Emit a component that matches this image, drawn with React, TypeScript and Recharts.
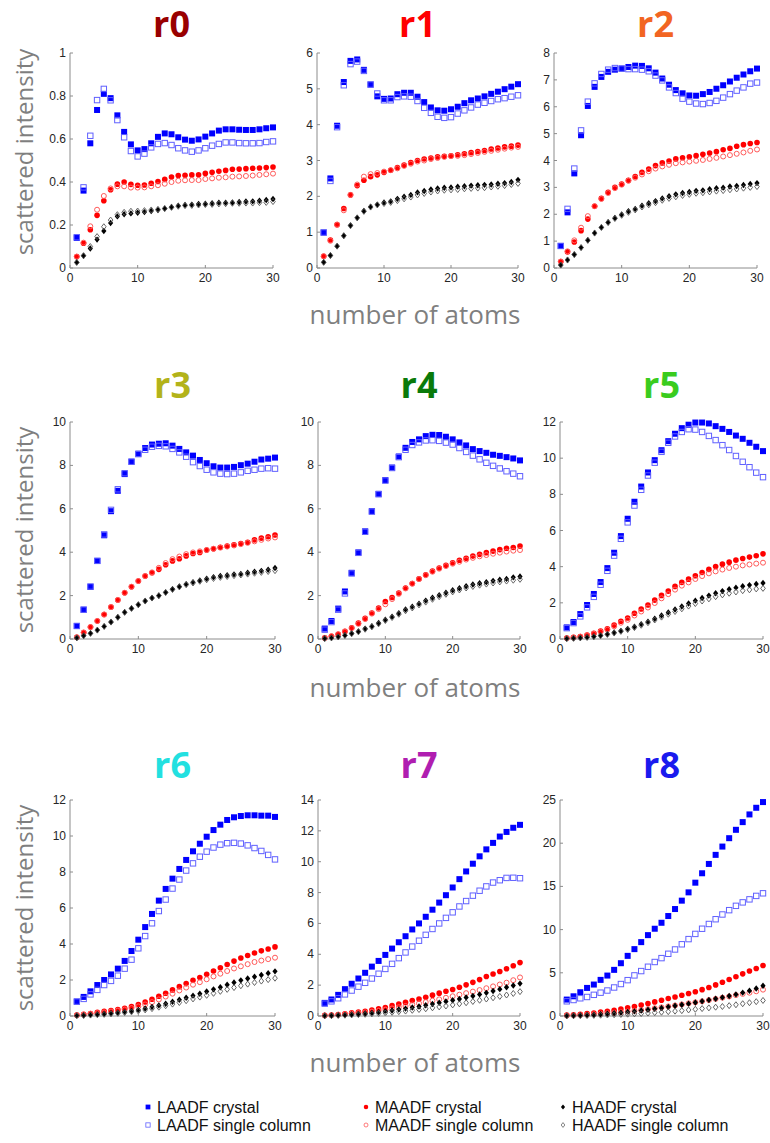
import React from 'react';
import { ScatterChart, Scatter, XAxis, YAxis } from 'recharts';

const atoms = [1, 2, 3, 4, 5, 6, 7, 8, 9, 10, 11, 12, 13, 14, 15, 16, 17, 18, 19, 20, 21, 22, 23, 24, 25, 26, 27, 28, 29, 30];
const panelNames = ['r0', 'r1', 'r2', 'r3', 'r4', 'r5', 'r6', 'r7', 'r8'];
const yMaxes = [1, 6, 8, 10, 10, 12, 12, 14, 25];
const yTickSets = [
  [0, 0.2, 0.4, 0.6, 0.8, 1],
  [0, 1, 2, 3, 4, 5, 6],
  [0, 1, 2, 3, 4, 5, 6, 7, 8],
  [0, 2, 4, 6, 8, 10],
  [0, 2, 4, 6, 8, 10],
  [0, 2, 4, 6, 8, 10, 12],
  [0, 2, 4, 6, 8, 10, 12],
  [0, 2, 4, 6, 8, 10, 12, 14],
  [0, 5, 10, 15, 20, 25],
];
const xTicks = [0, 10, 20, 30];
const seriesNames = ['LAADF crystal', 'LAADF single column', 'MAADF crystal', 'MAADF single column', 'HAADF crystal', 'HAADF single column'];
const xLabel = 'number of atoms';
const yLabel = 'scattered intensity';

// LAADF crystal, per panel r0..r8
const laadfCrystal = [
  [0.14, 0.36, 0.58, 0.735, 0.81, 0.79, 0.71, 0.633, 0.575, 0.547, 0.553, 0.58, 0.61, 0.626, 0.622, 0.608, 0.597, 0.592, 0.598, 0.611, 0.626, 0.639, 0.645, 0.645, 0.643, 0.642, 0.642, 0.645, 0.65, 0.654],
  [0.99, 2.5, 3.97, 5.19, 5.78, 5.82, 5.53, 5.12, 4.79, 4.72, 4.73, 4.85, 4.89, 4.89, 4.78, 4.63, 4.48, 4.4, 4.39, 4.43, 4.5, 4.6, 4.68, 4.73, 4.79, 4.86, 4.92, 4.99, 5.06, 5.13],
  [0.82, 2.07, 3.52, 4.94, 6.03, 6.74, 7.11, 7.3, 7.38, 7.42, 7.48, 7.53, 7.52, 7.43, 7.27, 7.05, 6.82, 6.62, 6.5, 6.42, 6.41, 6.47, 6.55, 6.67, 6.8, 6.94, 7.08, 7.2, 7.32, 7.42],
  [0.6, 1.35, 2.4, 3.6, 4.78, 5.89, 6.83, 7.6, 8.17, 8.54, 8.8, 8.96, 9.0, 9.02, 8.91, 8.76, 8.6, 8.45, 8.25, 8.1, 7.96, 7.9, 7.9, 7.93, 8.01, 8.08, 8.17, 8.27, 8.31, 8.36],
  [0.48, 0.83, 1.4, 2.19, 3.05, 3.99, 4.96, 5.89, 6.69, 7.32, 7.9, 8.41, 8.81, 9.08, 9.2, 9.35, 9.41, 9.4, 9.32, 9.2, 9.06, 8.92, 8.75, 8.66, 8.58, 8.49, 8.44, 8.38, 8.32, 8.23],
  [0.64, 0.94, 1.38, 1.88, 2.49, 3.15, 3.92, 4.77, 5.69, 6.65, 7.59, 8.43, 9.21, 9.89, 10.44, 10.94, 11.35, 11.66, 11.85, 11.97, 11.97, 11.92, 11.77, 11.62, 11.45, 11.25, 11.07, 10.85, 10.63, 10.39],
  [0.8, 1.06, 1.37, 1.72, 2.0, 2.31, 2.63, 3.06, 3.61, 4.24, 4.94, 5.67, 6.41, 7.06, 7.63, 8.17, 8.67, 9.15, 9.57, 9.96, 10.33, 10.63, 10.89, 11.04, 11.11, 11.15, 11.15, 11.13, 11.13, 11.06],
  [0.85, 1.07, 1.37, 1.74, 2.09, 2.43, 2.8, 3.2, 3.57, 3.96, 4.37, 4.78, 5.17, 5.61, 6.0, 6.43, 6.89, 7.35, 7.83, 8.33, 8.87, 9.37, 9.87, 10.35, 10.8, 11.22, 11.63, 11.93, 12.2, 12.39],
  [1.9, 2.28, 2.75, 3.25, 3.64, 4.18, 4.68, 5.34, 6.11, 6.96, 7.74, 8.55, 9.36, 10.1, 10.79, 11.57, 12.38, 13.35, 14.31, 15.43, 16.52, 17.6, 18.65, 19.61, 20.58, 21.55, 22.44, 23.33, 24.1, 24.76],
];

// LAADF single column
const laadfSingle = [
  [0.143, 0.375, 0.615, 0.781, 0.833, 0.78, 0.688, 0.608, 0.544, 0.519, 0.532, 0.561, 0.577, 0.581, 0.572, 0.557, 0.547, 0.541, 0.547, 0.557, 0.569, 0.577, 0.584, 0.584, 0.581, 0.58, 0.58, 0.581, 0.586, 0.589],
  [0.99, 2.43, 3.93, 5.1, 5.69, 5.76, 5.5, 5.12, 4.87, 4.68, 4.68, 4.77, 4.79, 4.78, 4.66, 4.47, 4.33, 4.22, 4.19, 4.21, 4.31, 4.4, 4.48, 4.56, 4.61, 4.66, 4.71, 4.74, 4.78, 4.82],
  [0.82, 2.2, 3.7, 5.12, 6.19, 6.87, 7.22, 7.38, 7.44, 7.42, 7.4, 7.4, 7.38, 7.32, 7.16, 6.98, 6.72, 6.51, 6.3, 6.19, 6.12, 6.1, 6.14, 6.22, 6.34, 6.47, 6.6, 6.72, 6.86, 6.9],
  [0.6, 1.35, 2.42, 3.6, 4.82, 5.95, 6.9, 7.64, 8.17, 8.52, 8.72, 8.86, 8.9, 8.88, 8.76, 8.6, 8.4, 8.15, 7.97, 7.8, 7.68, 7.62, 7.6, 7.62, 7.68, 7.75, 7.8, 7.85, 7.87, 7.85],
  [0.43, 0.78, 1.35, 2.1, 3.02, 3.97, 4.94, 5.87, 6.67, 7.3, 7.88, 8.38, 8.72, 8.94, 9.06, 9.15, 9.16, 9.13, 9.05, 8.96, 8.8, 8.62, 8.45, 8.28, 8.12, 7.98, 7.86, 7.73, 7.62, 7.5],
  [0.6, 0.88, 1.25, 1.75, 2.33, 3.0, 3.77, 4.61, 5.54, 6.45, 7.38, 8.25, 9.04, 9.75, 10.35, 10.85, 11.2, 11.45, 11.6, 11.58, 11.45, 11.23, 11.0, 10.72, 10.45, 10.12, 9.8, 9.5, 9.2, 8.95],
  [0.8, 0.95, 1.2, 1.45, 1.72, 1.95, 2.24, 2.63, 3.13, 3.76, 4.44, 5.15, 5.83, 6.47, 7.08, 7.58, 8.08, 8.48, 8.85, 9.13, 9.36, 9.52, 9.6, 9.62, 9.58, 9.48, 9.33, 9.17, 8.95, 8.7],
  [0.8, 0.95, 1.15, 1.4, 1.65, 1.9, 2.15, 2.43, 2.74, 3.05, 3.38, 3.75, 4.12, 4.5, 4.88, 5.26, 5.64, 6.0, 6.36, 6.72, 7.1, 7.45, 7.8, 8.12, 8.4, 8.65, 8.8, 8.95, 8.96, 8.93],
  [1.7, 1.85, 2.05, 2.2, 2.45, 2.7, 2.95, 3.3, 3.7, 4.15, 4.7, 5.2, 5.7, 6.25, 6.7, 7.2, 7.7, 8.3, 8.9, 9.5, 10.1, 10.65, 11.2, 11.75, 12.25, 12.75, 13.15, 13.5, 13.9, 14.2],
];

// MAADF crystal
const maadfCrystal = [
  [0.053, 0.115, 0.178, 0.245, 0.313, 0.364, 0.39, 0.4, 0.389, 0.385, 0.386, 0.394, 0.402, 0.412, 0.423, 0.43, 0.431, 0.433, 0.434, 0.44, 0.445, 0.45, 0.454, 0.459, 0.46, 0.462, 0.464, 0.465, 0.467, 0.47],
  [0.33, 0.78, 1.21, 1.66, 2.04, 2.3, 2.45, 2.55, 2.6, 2.67, 2.73, 2.8, 2.87, 2.94, 3.0, 3.04, 3.07, 3.1, 3.12, 3.13, 3.16, 3.19, 3.22, 3.25, 3.28, 3.32, 3.35, 3.38, 3.4, 3.43],
  [0.24, 0.6, 0.97, 1.39, 1.82, 2.3, 2.59, 2.82, 3.0, 3.12, 3.26, 3.4, 3.56, 3.68, 3.81, 3.91, 3.98, 4.06, 4.1, 4.14, 4.18, 4.23, 4.28, 4.33, 4.4, 4.45, 4.53, 4.59, 4.63, 4.67],
  [0.08, 0.3, 0.55, 0.83, 1.13, 1.47, 1.8, 2.13, 2.41, 2.67, 2.9, 3.05, 3.21, 3.42, 3.6, 3.7, 3.83, 3.94, 3.99, 4.1, 4.16, 4.23, 4.28, 4.34, 4.4, 4.46, 4.57, 4.65, 4.71, 4.79],
  [0.05, 0.13, 0.22, 0.35, 0.52, 0.73, 0.95, 1.2, 1.43, 1.73, 1.91, 2.12, 2.35, 2.56, 2.77, 2.96, 3.13, 3.27, 3.4, 3.51, 3.63, 3.72, 3.82, 3.9, 3.98, 4.05, 4.12, 4.18, 4.22, 4.28],
  [0.05, 0.09, 0.14, 0.22, 0.32, 0.44, 0.57, 0.77, 0.98, 1.16, 1.42, 1.66, 1.88, 2.15, 2.41, 2.65, 2.91, 3.13, 3.31, 3.5, 3.68, 3.85, 4.01, 4.14, 4.25, 4.36, 4.45, 4.53, 4.6, 4.71],
  [0.05, 0.1, 0.14, 0.2, 0.26, 0.3, 0.36, 0.43, 0.52, 0.64, 0.78, 0.93, 1.1, 1.26, 1.45, 1.63, 1.8, 1.98, 2.14, 2.32, 2.5, 2.68, 2.86, 3.05, 3.22, 3.36, 3.5, 3.62, 3.72, 3.84],
  [0.04, 0.06, 0.1, 0.14, 0.2, 0.25, 0.3, 0.38, 0.46, 0.55, 0.67, 0.78, 0.88, 1.0, 1.1, 1.22, 1.35, 1.48, 1.6, 1.72, 1.86, 2.02, 2.18, 2.36, 2.56, 2.72, 2.88, 3.06, 3.26, 3.46],
  [0.1, 0.14, 0.2, 0.27, 0.35, 0.45, 0.55, 0.66, 0.8, 0.95, 1.1, 1.27, 1.45, 1.63, 1.82, 2.02, 2.2, 2.4, 2.6, 2.8, 3.05, 3.3, 3.6, 3.9, 4.22, 4.55, 4.88, 5.2, 5.5, 5.85],
];

// MAADF single column
const maadfSingle = [
  [0.053, 0.118, 0.194, 0.271, 0.335, 0.37, 0.38, 0.38, 0.374, 0.374, 0.375, 0.38, 0.385, 0.392, 0.4, 0.406, 0.408, 0.409, 0.409, 0.414, 0.417, 0.42, 0.422, 0.425, 0.426, 0.428, 0.43, 0.433, 0.436, 0.439],
  [0.33, 0.76, 1.21, 1.61, 2.04, 2.33, 2.55, 2.62, 2.65, 2.69, 2.73, 2.78, 2.85, 2.91, 2.97, 3.0, 3.04, 3.07, 3.1, 3.12, 3.13, 3.15, 3.18, 3.21, 3.24, 3.27, 3.3, 3.33, 3.36, 3.38],
  [0.24, 0.62, 1.03, 1.5, 1.93, 2.3, 2.57, 2.79, 2.97, 3.1, 3.25, 3.36, 3.48, 3.6, 3.7, 3.78, 3.84, 3.9, 3.93, 3.96, 3.99, 4.02, 4.06, 4.1, 4.15, 4.2, 4.25, 4.3, 4.36, 4.41],
  [0.08, 0.3, 0.55, 0.83, 1.13, 1.47, 1.8, 2.13, 2.41, 2.67, 2.9, 3.07, 3.28, 3.5, 3.68, 3.8, 3.91, 3.99, 4.04, 4.1, 4.16, 4.21, 4.26, 4.31, 4.37, 4.43, 4.5, 4.57, 4.63, 4.68],
  [0.05, 0.13, 0.22, 0.34, 0.5, 0.7, 0.92, 1.17, 1.38, 1.6, 1.84, 2.08, 2.33, 2.55, 2.76, 2.94, 3.1, 3.24, 3.36, 3.47, 3.56, 3.66, 3.74, 3.81, 3.87, 3.93, 3.98, 4.03, 4.07, 4.1],
  [0.05, 0.08, 0.13, 0.2, 0.29, 0.4, 0.52, 0.7, 0.9, 1.06, 1.3, 1.52, 1.74, 1.99, 2.25, 2.48, 2.73, 2.95, 3.13, 3.32, 3.48, 3.63, 3.74, 3.84, 3.93, 4.0, 4.07, 4.12, 4.17, 4.22],
  [0.05, 0.08, 0.12, 0.16, 0.2, 0.25, 0.3, 0.36, 0.44, 0.53, 0.64, 0.77, 0.92, 1.08, 1.24, 1.42, 1.58, 1.74, 1.88, 2.04, 2.2, 2.35, 2.5, 2.64, 2.76, 2.88, 3.0, 3.08, 3.16, 3.24],
  [0.03, 0.05, 0.08, 0.11, 0.15, 0.19, 0.23, 0.28, 0.34, 0.41, 0.49, 0.57, 0.65, 0.74, 0.82, 0.9, 0.99, 1.08, 1.18, 1.28, 1.38, 1.48, 1.58, 1.68, 1.8, 1.92, 2.04, 2.16, 2.32, 2.5],
  [0.05, 0.08, 0.11, 0.15, 0.2, 0.25, 0.31, 0.37, 0.44, 0.52, 0.6, 0.69, 0.79, 0.89, 1.0, 1.11, 1.22, 1.34, 1.46, 1.58, 1.7, 1.84, 1.98, 2.12, 2.26, 2.42, 2.56, 2.7, 2.86, 3.05],
];

// HAADF crystal
const haadfCrystal = [
  [0.026, 0.057, 0.091, 0.132, 0.172, 0.209, 0.24, 0.25, 0.254, 0.257, 0.26, 0.265, 0.27, 0.276, 0.284, 0.29, 0.293, 0.295, 0.298, 0.299, 0.301, 0.304, 0.304, 0.305, 0.307, 0.309, 0.31, 0.313, 0.316, 0.321],
  [0.16, 0.35, 0.61, 0.9, 1.19, 1.4, 1.59, 1.71, 1.77, 1.83, 1.86, 1.93, 1.99, 2.04, 2.11, 2.15, 2.19, 2.22, 2.24, 2.25, 2.27, 2.28, 2.3, 2.31, 2.32, 2.33, 2.35, 2.37, 2.4, 2.46],
  [0.11, 0.3, 0.5, 0.76, 1.03, 1.3, 1.51, 1.7, 1.86, 1.99, 2.11, 2.2, 2.32, 2.41, 2.49, 2.59, 2.67, 2.74, 2.79, 2.83, 2.87, 2.89, 2.93, 2.97, 2.99, 3.03, 3.05, 3.09, 3.13, 3.16],
  [0.05, 0.15, 0.26, 0.41, 0.58, 0.78, 1.0, 1.23, 1.41, 1.58, 1.75, 1.89, 1.99, 2.15, 2.3, 2.42, 2.53, 2.62, 2.7, 2.78, 2.85, 2.9, 2.94, 2.98, 3.0, 3.05, 3.1, 3.14, 3.19, 3.27],
  [0.02, 0.05, 0.1, 0.17, 0.26, 0.35, 0.48, 0.59, 0.74, 0.89, 1.03, 1.19, 1.36, 1.49, 1.63, 1.77, 1.9, 2.02, 2.13, 2.25, 2.34, 2.43, 2.51, 2.57, 2.62, 2.68, 2.73, 2.77, 2.84, 2.88],
  [0.02, 0.04, 0.06, 0.1, 0.14, 0.2, 0.27, 0.36, 0.45, 0.56, 0.68, 0.82, 0.96, 1.12, 1.3, 1.47, 1.63, 1.8, 1.96, 2.12, 2.27, 2.4, 2.53, 2.65, 2.75, 2.84, 2.92, 2.98, 3.04, 3.1],
  [0.02, 0.04, 0.07, 0.09, 0.12, 0.15, 0.19, 0.23, 0.28, 0.34, 0.42, 0.5, 0.59, 0.68, 0.79, 0.9, 1.01, 1.13, 1.24, 1.36, 1.48, 1.6, 1.74, 1.86, 1.98, 2.08, 2.18, 2.28, 2.38, 2.48],
  [0.02, 0.03, 0.05, 0.07, 0.1, 0.13, 0.16, 0.2, 0.25, 0.3, 0.36, 0.42, 0.48, 0.55, 0.62, 0.7, 0.78, 0.86, 0.94, 1.02, 1.1, 1.2, 1.3, 1.4, 1.5, 1.62, 1.74, 1.86, 1.98, 2.1],
  [0.03, 0.05, 0.08, 0.11, 0.15, 0.2, 0.26, 0.32, 0.39, 0.46, 0.54, 0.63, 0.73, 0.83, 0.94, 1.06, 1.18, 1.3, 1.43, 1.56, 1.7, 1.85, 2.0, 2.15, 2.32, 2.5, 2.7, 2.92, 3.18, 3.5],
];

// HAADF single column
const haadfSingle = [
  [0.026, 0.057, 0.1, 0.146, 0.192, 0.223, 0.248, 0.259, 0.264, 0.265, 0.267, 0.27, 0.273, 0.277, 0.282, 0.287, 0.29, 0.291, 0.293, 0.295, 0.296, 0.298, 0.299, 0.301, 0.301, 0.302, 0.302, 0.304, 0.305, 0.309],
  [0.16, 0.35, 0.61, 0.9, 1.18, 1.4, 1.58, 1.7, 1.76, 1.8, 1.83, 1.88, 1.93, 1.98, 2.04, 2.08, 2.12, 2.15, 2.17, 2.18, 2.19, 2.21, 2.22, 2.23, 2.24, 2.26, 2.28, 2.3, 2.33, 2.36],
  [0.11, 0.3, 0.5, 0.76, 1.03, 1.3, 1.51, 1.69, 1.84, 1.96, 2.07, 2.16, 2.27, 2.35, 2.43, 2.52, 2.59, 2.65, 2.7, 2.74, 2.78, 2.8, 2.83, 2.86, 2.88, 2.91, 2.94, 2.97, 3.0, 3.03],
  [0.05, 0.15, 0.26, 0.41, 0.58, 0.78, 1.0, 1.23, 1.41, 1.58, 1.75, 1.89, 2.0, 2.14, 2.28, 2.4, 2.5, 2.58, 2.66, 2.73, 2.79, 2.84, 2.88, 2.92, 2.95, 2.99, 3.03, 3.07, 3.11, 3.15],
  [0.02, 0.05, 0.1, 0.16, 0.24, 0.33, 0.45, 0.56, 0.7, 0.85, 0.99, 1.14, 1.3, 1.43, 1.57, 1.7, 1.83, 1.95, 2.06, 2.17, 2.26, 2.35, 2.42, 2.48, 2.53, 2.58, 2.63, 2.67, 2.71, 2.75],
  [0.02, 0.04, 0.06, 0.09, 0.13, 0.18, 0.25, 0.33, 0.42, 0.52, 0.63, 0.76, 0.9, 1.05, 1.21, 1.37, 1.52, 1.67, 1.82, 1.96, 2.1, 2.22, 2.34, 2.44, 2.53, 2.6, 2.67, 2.72, 2.77, 2.8],
  [0.02, 0.03, 0.05, 0.07, 0.09, 0.12, 0.15, 0.19, 0.23, 0.28, 0.34, 0.41, 0.49, 0.57, 0.66, 0.75, 0.85, 0.95, 1.05, 1.15, 1.26, 1.37, 1.48, 1.58, 1.68, 1.77, 1.86, 1.94, 2.02, 2.1],
  [0.01, 0.02, 0.04, 0.05, 0.07, 0.09, 0.11, 0.14, 0.17, 0.2, 0.24, 0.28, 0.32, 0.37, 0.42, 0.47, 0.53, 0.59, 0.65, 0.72, 0.79, 0.86, 0.94, 1.02, 1.1, 1.18, 1.27, 1.36, 1.46, 1.58],
  [0.01, 0.02, 0.04, 0.05, 0.07, 0.09, 0.12, 0.15, 0.18, 0.21, 0.25, 0.29, 0.34, 0.39, 0.44, 0.5, 0.56, 0.62, 0.7, 0.78, 0.86, 0.94, 1.02, 1.1, 1.2, 1.3, 1.42, 1.54, 1.66, 1.8],
];

// ---- presentation (layout & styles) ----
const titleColors = ['#990000', '#ff0000', '#f26522', '#b3b31a', '#0a7a0a', '#3acc1e', '#22e0e0', '#b01eb0', '#1a1aee'];
const plotBoxes = [
  { l: 70, r: 273, t: 53, b: 268 },
  { l: 317, r: 518, t: 53, b: 268 },
  { l: 554, r: 757, t: 53, b: 268 },
  { l: 70, r: 275, t: 422, b: 639 },
  { l: 318, r: 520, t: 422, b: 639 },
  { l: 560, r: 763, t: 422, b: 639 },
  { l: 70, r: 275, t: 800, b: 1016 },
  { l: 318, r: 520, t: 800, b: 1016 },
  { l: 560, r: 763, t: 800, b: 1016 },
];
const titleBaselines = [37, 398, 778];
const xLabelBaselines = [324, 697, 1072];
const yLabelCenters = [152, 530, 908];

const AXIS = '#8c8c8c';
const TICKTXT = '#262626';
const LABEL = '#7f7f7f';

const FilledSquare = (p: any) => <rect x={p.cx - 3} y={p.cy - 3} width={6} height={6} fill="#0000ff" />;
const OpenSquare = (p: any) => <rect x={p.cx - 2.7} y={p.cy - 2.7} width={5.4} height={5.4} fill="none" stroke="#6060ff" strokeWidth={1} />;
const FilledCircle = (p: any) => <circle cx={p.cx} cy={p.cy} r={2.8} fill="#ff0000" />;
const OpenCircle = (p: any) => <circle cx={p.cx} cy={p.cy} r={2.5} fill="none" stroke="#ff5a5a" strokeWidth={1} />;
const FilledDiamond = (p: any) => <path d={`M${p.cx},${p.cy - 3.2}L${p.cx + 2.6},${p.cy}L${p.cx},${p.cy + 3.2}L${p.cx - 2.6},${p.cy}Z`} fill="#000" />;
const OpenDiamond = (p: any) => <path d={`M${p.cx},${p.cy - 3}L${p.cx + 2.3},${p.cy}L${p.cx},${p.cy + 3}L${p.cx - 2.3},${p.cy}Z`} fill="none" stroke="#555" strokeWidth={0.9} />;

const TICK_MARGIN = 4;

const YTick = (props: any) => {
  const { x, y, payload } = props;
  const ax = x + TICK_MARGIN;
  return (
    <g>
      <line x1={ax} x2={ax + 3} y1={y} y2={y} stroke={AXIS} />
      <text x={x} y={y} dy={4} textAnchor="end" fontSize={12} fontFamily="'Liberation Sans', Arial, sans-serif" fill={TICKTXT}>
        {String(payload.value)}
      </text>
    </g>
  );
};

const XTick = (props: any) => {
  const { x, y, payload } = props;
  const ay = y - TICK_MARGIN;
  return (
    <g>
      <line x1={x} x2={x} y1={ay} y2={ay - 3} stroke={AXIS} />
      <text x={x} y={y} dy={10} textAnchor="middle" fontSize={12} fontFamily="'Liberation Sans', Arial, sans-serif" fill={TICKTXT}>
        {String(payload.value)}
      </text>
    </g>
  );
};

function Panel({ idx }: { idx: number }) {
  const box = plotBoxes[idx];
  const padL = 50;
  const padR = 10;
  const padT = 10;
  const padB = 30;
  const width = box.r - box.l + padL + padR;
  const height = box.b - box.t + padT + padB;
  const mk = (vals: number[]) => atoms.map((a, i) => ({ x: a, y: vals[i] }));
  return (
    <div style={{ position: 'absolute', left: box.l - padL, top: box.t - padT, width, height }}>
      <ScatterChart width={width} height={height} margin={{ top: padT, right: padR, bottom: 0, left: 10 }}>
        <XAxis
          type="number"
          dataKey="x"
          domain={[0, 30]}
          ticks={xTicks}
          interval={0}
          tickSize={0}
          tickMargin={TICK_MARGIN}
          height={padB}
          axisLine={{ stroke: AXIS }}
          tick={(p: any) => <XTick {...p} />}
        />
        <YAxis
          type="number"
          dataKey="y"
          domain={[0, yMaxes[idx]]}
          ticks={yTickSets[idx]}
          interval={0}
          tickSize={0}
          tickMargin={TICK_MARGIN}
          width={40}
          axisLine={{ stroke: AXIS }}
          tick={(p: any) => <YTick {...p} />}
        />
        <Scatter name={seriesNames[0]} data={mk(laadfCrystal[idx])} shape={FilledSquare} isAnimationActive={false} />
        <Scatter name={seriesNames[1]} data={mk(laadfSingle[idx])} shape={OpenSquare} isAnimationActive={false} />
        <Scatter name={seriesNames[2]} data={mk(maadfCrystal[idx])} shape={FilledCircle} isAnimationActive={false} />
        <Scatter name={seriesNames[3]} data={mk(maadfSingle[idx])} shape={OpenCircle} isAnimationActive={false} />
        <Scatter name={seriesNames[4]} data={mk(haadfCrystal[idx])} shape={FilledDiamond} isAnimationActive={false} />
        <Scatter name={seriesNames[5]} data={mk(haadfSingle[idx])} shape={OpenDiamond} isAnimationActive={false} />
      </ScatterChart>
    </div>
  );
}

const legendCols = [148, 366, 563];
const legendRows = [1107, 1125];
const legendShapes = [FilledSquare, OpenSquare, FilledCircle, OpenCircle, FilledDiamond, OpenDiamond];

export default function App() {
  const LABEL_FONT = "'Open Sans', 'Noto Sans', sans-serif";
  return (
    <div style={{ position: 'absolute', left: 0, top: 0, width: 770, height: 1143, background: '#fff' }}>
      {panelNames.map((_, i) => (
        <Panel key={i} idx={i} />
      ))}
      <svg width={770} height={1143} style={{ position: 'absolute', left: 0, top: 0, pointerEvents: 'none' }}>
        {panelNames.map((name, i) => {
          const box = plotBoxes[i];
          const row = Math.floor(i / 3);
          return (
            <text
              key={name}
              x={(box.l + box.r) / 2}
              y={titleBaselines[row]}
              textAnchor="middle"
              fontSize={36}
              fontWeight={700}
              fontFamily={LABEL_FONT}
              fill={titleColors[i]}
            >
              {name}
            </text>
          );
        })}
        {[0, 1, 2].map((row) => (
          <text
            key={'xl' + row}
            x={415}
            y={xLabelBaselines[row]}
            textAnchor="middle"
            fontSize={26}
            fontFamily={LABEL_FONT}
            fill={LABEL}
          >
            {xLabel}
          </text>
        ))}
        {[0, 1, 2].map((row) => (
          <text
            key={'yl' + row}
            x={0}
            y={0}
            transform={`translate(33, ${yLabelCenters[row]}) rotate(-90)`}
            textAnchor="middle"
            fontSize={24}
            fontFamily={LABEL_FONT}
            fill={LABEL}
          >
            {yLabel}
          </text>
        ))}
        {seriesNames.map((s, k) => {
          const col = Math.floor(k / 2);
          const row = k % 2;
          const Shape = legendShapes[k];
          const cx = legendCols[col];
          const cy = legendRows[row];
          return (
            <g key={s}>
              <g transform={`translate(${cx}, ${cy}) scale(0.8) translate(${-cx}, ${-cy})`}>
                <Shape cx={cx} cy={cy} />
              </g>
              <text x={cx + 9} y={cy + 5.5} fontSize={16} fontFamily="'Liberation Sans', Arial, sans-serif" fill="#111">
                {s}
              </text>
            </g>
          );
        })}
      </svg>
    </div>
  );
}
